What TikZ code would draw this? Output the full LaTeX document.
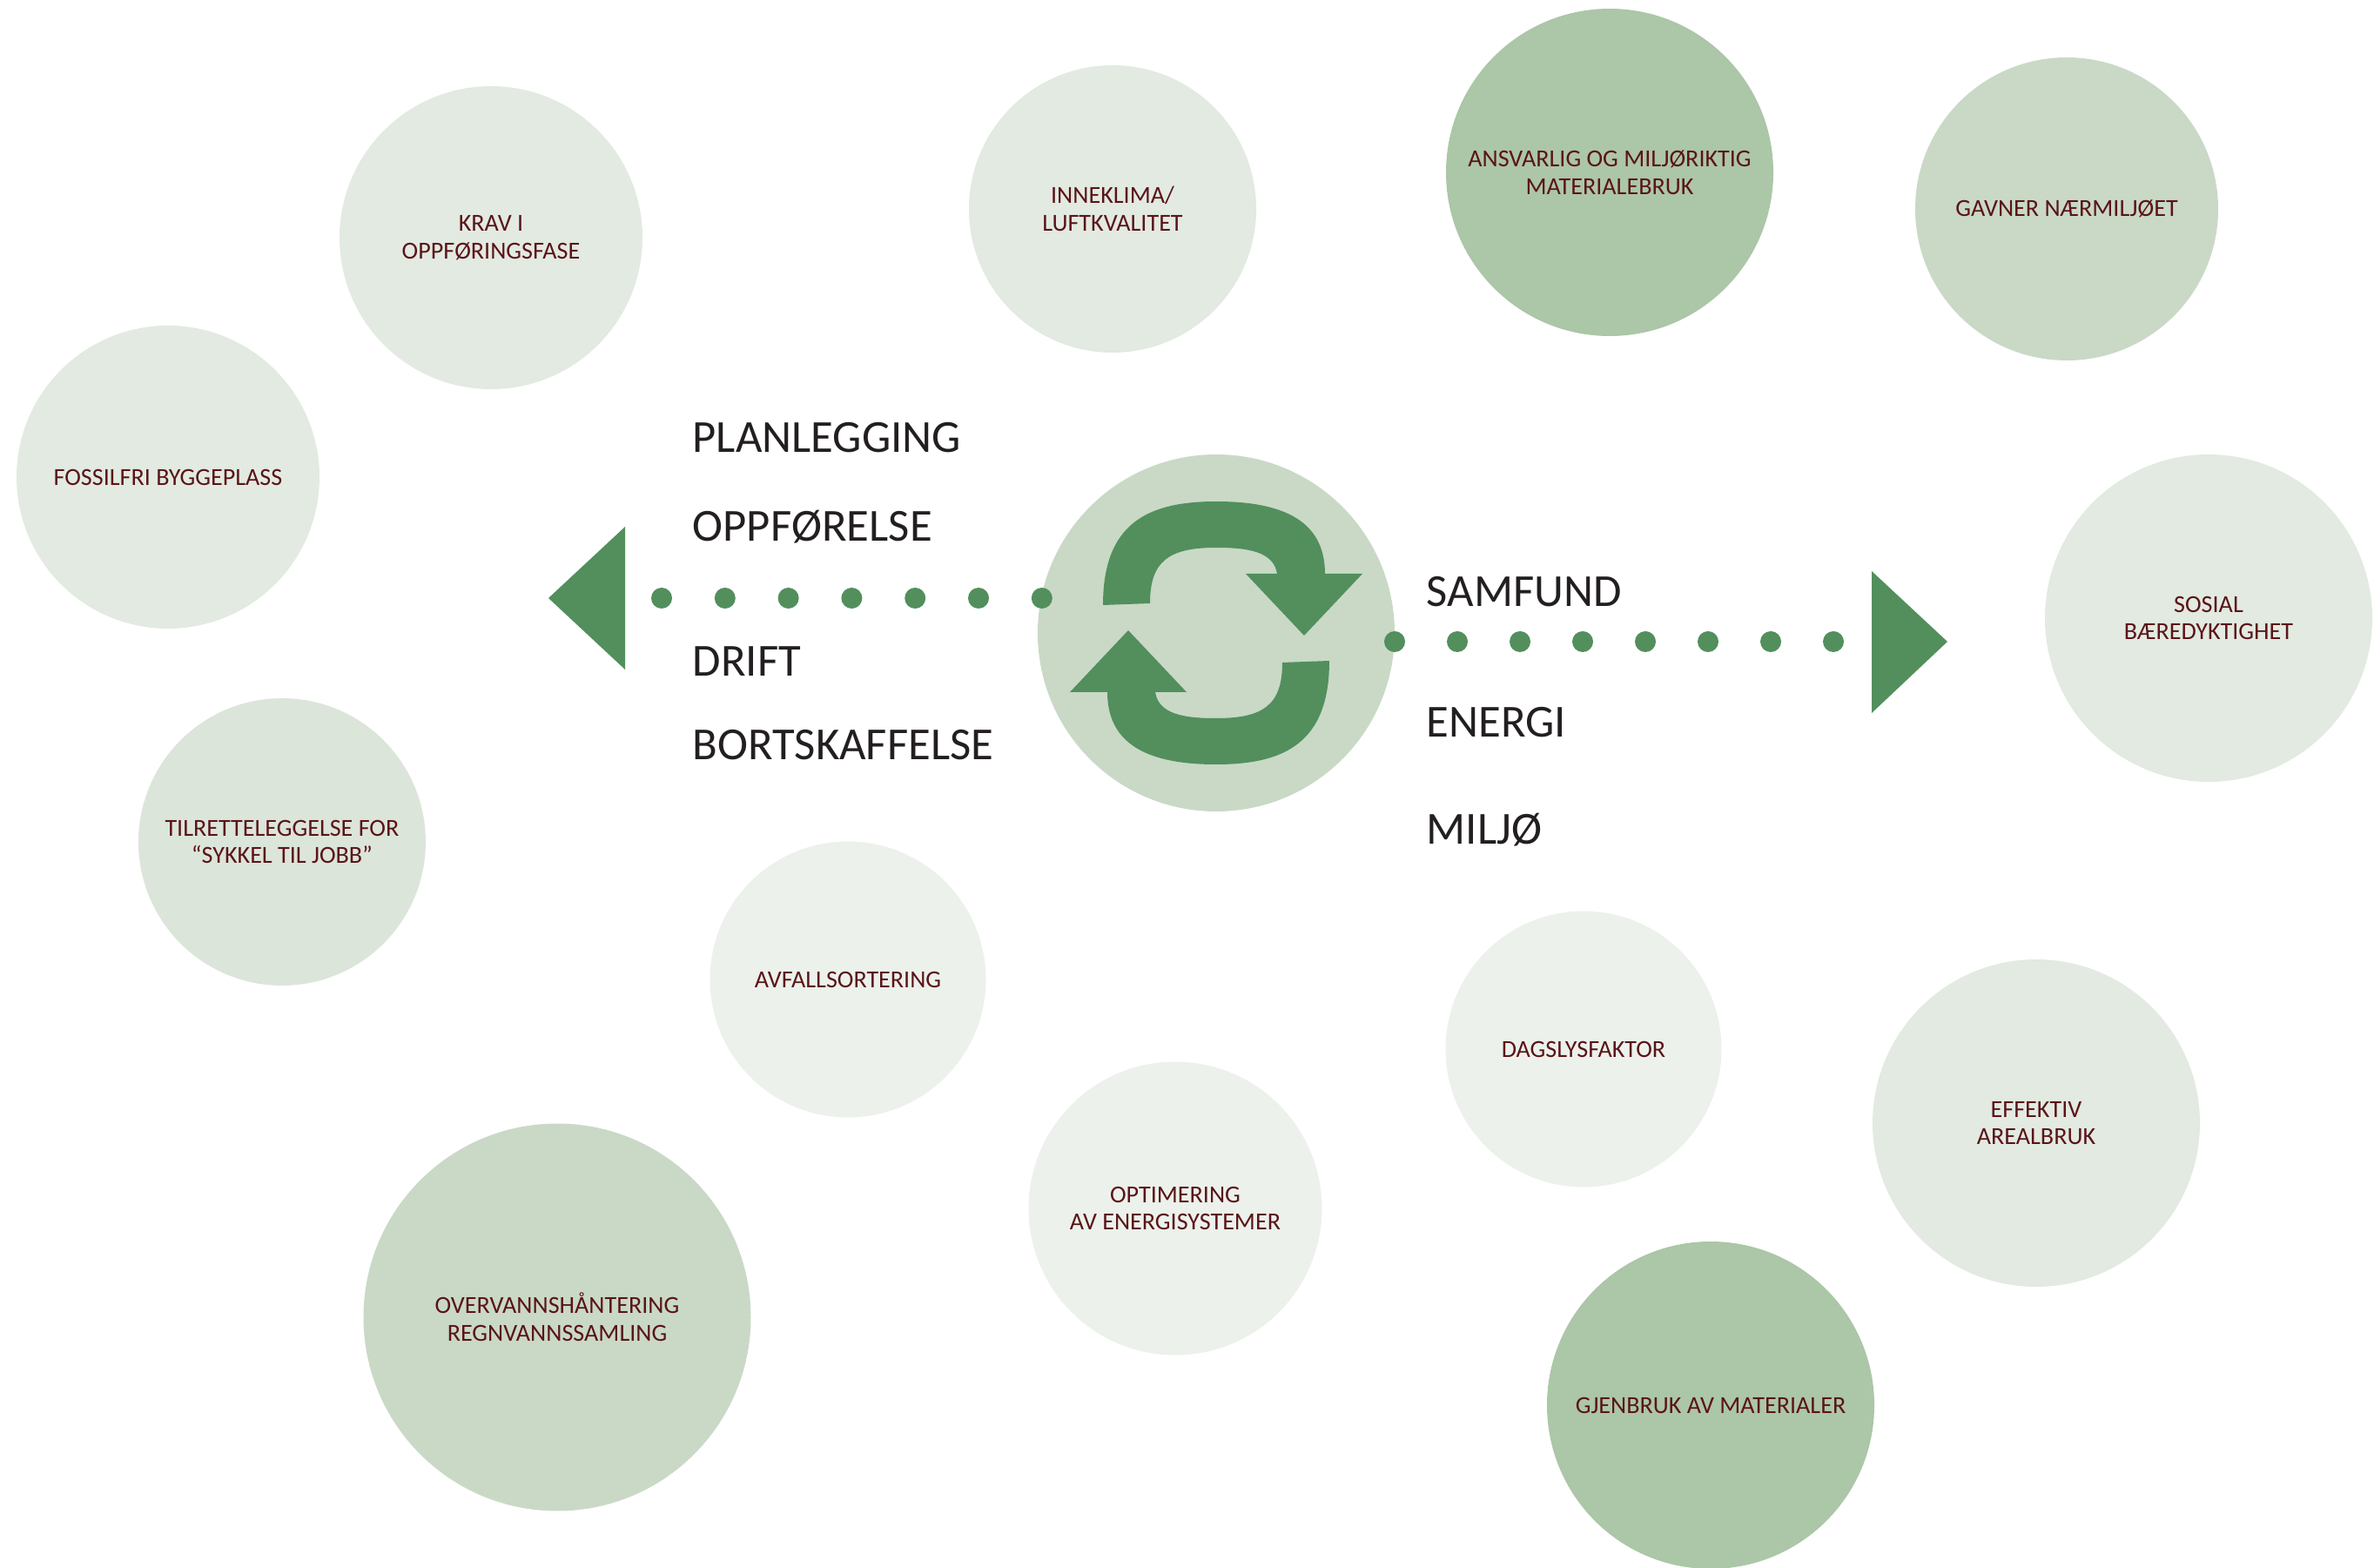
\documentclass[tikz,border=0pt]{standalone}
\usepackage{fontspec}
\setmainfont{Carlito}
\usepackage{xcolor}
\usepackage{tikz}
\usetikzlibrary{positioning}

\definecolor{cycgreen}{HTML}{528F5C}
\definecolor{leafdark}{HTML}{ACC6A8}
\definecolor{leafmid}{HTML}{C9D9C6}
\definecolor{leafsoft}{HTML}{DCE5DA}
\definecolor{leaflight}{HTML}{E2EAE1}
\definecolor{leafpale}{HTML}{ECF1EB}
\definecolor{labelred}{HTML}{5A1418}
\definecolor{phasegrey}{HTML}{231F20}

\begin{document}
\begin{tikzpicture}
\tikzstyle{goal} = [circle, inner sep=0pt, align=center, text=labelred, font=\fontsize{8}{9}\selectfont]
\tikzstyle{phase} = [anchor=base west, inner sep=0pt, text=phasegrey, font=\fontsize{15}{18}\selectfont]
\useasboundingbox (0,0) rectangle (27.27,18);

% goals round the cycle
\node (krav) [goal, fill=leaflight, minimum size=3.48cm] at (5.64,15.27) {KRAV I\\OPPFØRINGSFASE};
\node (fossil) [goal, fill=leaflight, minimum size=3.48cm] at (1.93,12.52) {FOSSILFRI BYGGEPLASS};
\node (sykkel) [goal, fill=leafsoft, minimum size=3.30cm] at (3.24,8.33) {TILRETTELEGGELSE FOR\\``SYKKEL TIL JOBB''};
\node (inneklima) [goal, fill=leaflight, minimum size=3.30cm] at (12.78,15.60) {INNEKLIMA/\\LUFTKVALITET};
\node (ansvarlig) [goal, fill=leafdark, minimum size=3.76cm] at (18.49,16.02) {ANSVARLIG OG MILJØRIKTIG\\MATERIALEBRUK};
\node (gavner) [goal, fill=leafmid, minimum size=3.48cm] at (23.74,15.60) {GAVNER NÆRMILJØET};
\node (sosial) [goal, fill=leaflight, minimum size=3.76cm] at (25.37,10.90) {SOSIAL\\BÆREDYKTIGHET};
\node (avfall) [goal, fill=leafpale, minimum size=3.17cm] at (9.74,6.75) {AVFALLSORTERING};
\node (optimering) [goal, fill=leafpale, minimum size=3.37cm] at (13.50,4.12) {OPTIMERING\\AV ENERGISYSTEMER};
\node (overvann) [goal, fill=leafmid, minimum size=4.45cm] at (6.40,2.87) {OVERVANNSHÅNTERING\\REGNVANNSSAMLING};
\node (dagslys) [goal, fill=leafpale, minimum size=3.17cm] at (18.19,5.95) {DAGSLYSFAKTOR};
\node (effektiv) [goal, fill=leaflight, minimum size=3.76cm] at (23.39,5.10) {EFFEKTIV\\AREALBRUK};
\node (gjenbruk) [goal, fill=leafdark, minimum size=3.76cm] at (19.65,1.86) {GJENBRUK AV MATERIALER};

% cycle symbol
\node (cyc) [circle, fill=leafmid, minimum size=4.10cm, inner sep=0pt] at (13.97,10.73) {};
\begin{scope}[shift={(cyc.center)}]
\foreach \r in {0,180}
  \fill[cycgreen, rotate=\r] (-1.30,0.32) .. controls (-1.30,1.25) and (-0.80,1.51) .. (0,1.51)
    .. controls (0.75,1.51) and (1.25,1.30) .. (1.25,0.68)
    -- (1.68,0.68) -- (1.01,-0.03) -- (0.34,0.68) -- (0.70,0.68)
    .. controls (0.66,0.93) and (0.38,0.98) .. (0,0.98)
    .. controls (-0.55,0.98) and (-0.76,0.82) .. (-0.76,0.34) -- cycle;
\end{scope}

% phases
\node (plan) [phase] at (7.95,12.80) {PLANLEGGING};
\node (oppf) [phase] at (7.95,11.78) {OPPFØRELSE};
\node (drift) [phase] at (7.95,10.23) {DRIFT};
\node (bort) [phase] at (7.95,9.27) {BORTSKAFFELSE};
\node (samfund) [phase] at (16.38,11.03) {SAMFUND};
\node (energi) [phase] at (16.38,9.53) {ENERGI};
\node (miljo) [phase] at (16.38,8.30) {MILJØ};

% dotted arrows
\foreach \i in {0,...,6}
  \fill[cycgreen] (7.60+0.728*\i,11.13) circle (0.12);
\fill[cycgreen] (6.30,11.13) -- (7.18,11.95) -- (7.18,10.31) -- cycle;
\foreach \i in {0,...,7}
  \fill[cycgreen] (16.02+0.72*\i,10.63) circle (0.12);
\fill[cycgreen] (21.50,11.44) -- (22.37,10.63) -- (21.50,9.81) -- cycle;

\end{tikzpicture}
\end{document}
